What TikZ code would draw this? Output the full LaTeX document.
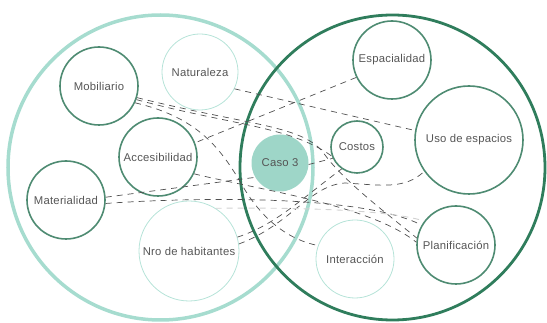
\documentclass[tikz,border=0pt]{standalone}
\usepackage{fontspec}
\setmainfont{Liberation Sans}[LetterSpace=2]
\usepackage{xcolor}
\definecolor{SetLight}{HTML}{A6DCCF}
\definecolor{SetDark}{HTML}{2F7D5C}
\definecolor{NodeDark}{HTML}{4E8B72}
\definecolor{NodeLight}{HTML}{B6E3D8}
\definecolor{CasoFill}{HTML}{9ED6C8}
\definecolor{Ink}{HTML}{555555}
\definecolor{DashInk}{HTML}{505050}

\begin{document}
\begin{tikzpicture}[x=1pt,y=-1pt,
  factor/.style={circle,inner sep=0pt,text=Ink,font=\fontsize{11.3}{13}\selectfont},
  darkfactor/.style={factor,draw=NodeDark,line width=1.6pt},
  lightfactor/.style={factor,draw=NodeLight,line width=0.8pt},
  link/.style={DashInk,line width=0.7pt,dash pattern=on 6pt off 5pt},
  linklight/.style={black!18,line width=0.9pt,dash pattern=on 6pt off 5pt}]
\useasboundingbox (0,0) rectangle (547,323);
% the two sets
\draw[SetLight,line width=3.5pt] (160.5,167.5) circle (152.5);
\draw[SetDark,line width=2.8pt] (392.5,167.5) circle (152.5);
% factors, left set
\node[darkfactor,minimum size=78pt] (mob) at (99,86) {Mobiliario};
\node[lightfactor,minimum size=76pt] (nat) at (200,72) {Naturaleza};
\node[darkfactor,minimum size=78pt] (acc) at (158,157) {Accesibilidad};
\node[darkfactor,minimum size=78pt] (mat) at (66,200) {Materialidad};
\node[lightfactor,minimum size=100pt] (hab) at (189,251) {Nro de habitantes};
% factors, right set
\node[darkfactor,minimum size=78pt] (esp) at (392,60) {Espacialidad};
\node[darkfactor,minimum size=108pt] (uso) at (469,140) {Uso de espacios};
\node[darkfactor,minimum size=52pt] (cos) at (357,147) {Costos};
\node[darkfactor,minimum size=78pt] (plan) at (456,245) {Planificación};
\node[lightfactor,minimum size=78pt] (inter) at (355,259) {Interacción};
% the case
\node[circle,fill=CasoFill,inner sep=0pt,minimum size=57pt,text=Ink,font=\fontsize{11.3}{13}\selectfont] (caso) at (280,163) {Caso 3};
% links
\draw[link] (nat.-26) -- (uso.170);
\draw[link] (esp.-154) -- (acc.21);
\draw[link] (mob.-20) .. controls (230,125) and (290,126) .. (cos.-160);
\draw[link] (mob.-17) .. controls (250,126) and (305,125) .. (325,155) .. controls (345,182) and (385,212) .. (plan.170);
\draw[link] (mob.-25) .. controls (200,118) and (222,150) .. (245,190) .. controls (265,222) and (290,240) .. (inter.160);
\draw[link] (mat.-5) .. controls (180,198) and (360,193) .. (plan.150);
\draw[link] (mat.4) -- (caso.-150);
\draw[link] (hab.8) .. controls (290,225) and (310,185) .. (345,183) .. controls (380,185) and (405,190) .. (uso.-145);
\draw[link] (hab.16) .. controls (275,225) and (300,200) .. (cos.-125);
\draw[link] (acc.-25) .. controls (260,190) and (370,205) .. (plan.176);
\draw[linklight] (hab.58) .. controls (260,208) and (380,207) .. (plan.143);
\draw[link] (caso.-3) -- (cos.-155);
\end{tikzpicture}
\end{document}
